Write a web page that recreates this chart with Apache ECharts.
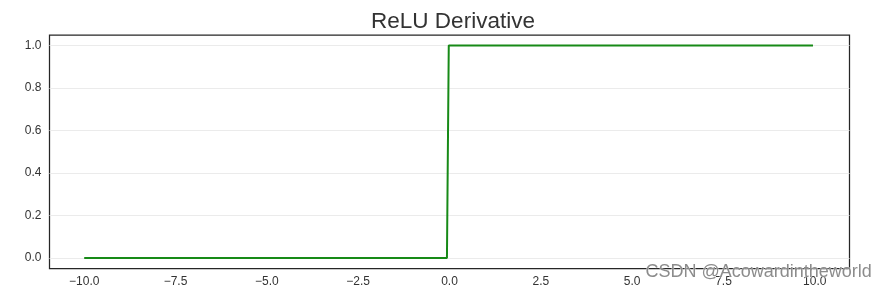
<!DOCTYPE html>
<html>
<head>
<meta charset="utf-8">
<script src="https://cdn.jsdelivr.net/npm/echarts@6/dist/echarts.min.js"></script>
<style>html,body{margin:0;padding:0;background:#fff;}#c{width:885px;height:291px;}</style>
</head>
<body>
<div id="c"></div>
<script>
var xValues = [-10, -0.07, -0.02, 9.95];
var yValues = [0, 0, 1, 1];
var xTicks = [-10, -7.5, -5, -2.5, 0, 2.5, 5, 7.5, 10];
var yTicks = [0, 0.2, 0.4, 0.6, 0.8, 1.0];

function fmt(v) {
  var s = Number(v).toFixed(1);
  return s.replace('-', '\u2212');
}

var chart = echarts.init(document.getElementById('c'), null, {renderer: 'canvas'});
chart.setOption({
  animation: false,
  backgroundColor: '#ffffff',
  title: {
    text: 'ReLU Derivative',
    left: 448, top: 5, textAlign: 'center',
    textStyle: {fontFamily: 'Liberation Sans', fontSize: 22.5, fontWeight: 'normal', color: '#333333'}
  },
  grid: {left: 49.5, top: 35, width: 800, height: 233.5, show: true, borderColor: '#262626', borderWidth: 1.25, backgroundColor: 'transparent'},
  xAxis: {
    type: 'value', min: -10.95, max: 10.95,
    axisLine: {show: false},
    axisTick: {show: false, customValues: xTicks},
    splitLine: {show: false},
    axisLabel: {customValues: xTicks, formatter: fmt, color: '#333333', fontFamily: 'Liberation Sans', fontSize: 12, margin: 7}
  },
  yAxis: {
    type: 'value', min: -0.05, max: 1.05,
    axisLine: {show: false},
    axisTick: {show: false, customValues: yTicks},
    splitLine: {show: true, lineStyle: {color: '#ebebeb', width: 1}},
    axisLabel: {customValues: yTicks, formatter: fmt, color: '#333333', fontFamily: 'Liberation Sans', fontSize: 12, margin: 8}
  },
  series: [{
    type: 'line',
    data: xValues.map(function (x, i) { return [x, yValues[i]]; }),
    showSymbol: false,
    lineStyle: {color: '#178a17', width: 2},
    itemStyle: {color: '#178a17'}
  }],
  graphic: [{
    type: 'text', left: 645, top: 263, z: 100,
    style: {text: 'CSDN @Acowardintheworld', fill: '#8c8c8c', font: '18px "Liberation Sans"', stroke: 'rgba(255,255,255,0.6)', lineWidth: 1}
  }]
});
</script>
</body>
</html>
